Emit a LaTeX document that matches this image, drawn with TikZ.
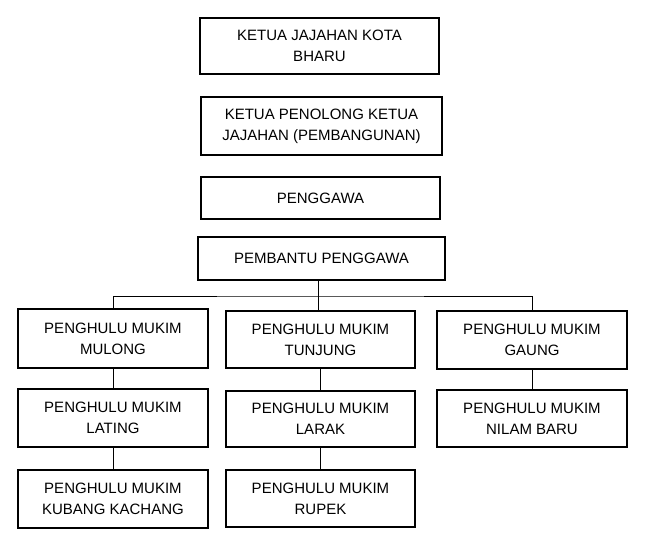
\documentclass[tikz,border=0pt]{standalone}
\usepackage{fontspec}
\setmainfont{Liberation Sans}
\begin{document}
\begin{tikzpicture}[x=1pt,y=-1pt,
 bx/.style={draw,line width=2.6pt,align=center,font=\fontsize{15}{21}\selectfont,inner sep=0pt},
 ln/.style={line width=0.7pt}]
\useasboundingbox (0,0) rectangle (646,544);
\newcommand{\bxat}[6]{\node[bx,minimum width=#4-#2,minimum height=#5-#3] (#1) at ({(#2+#4)/2},{(#3+#5)/2}) {#6};}
\bxat{a}{200}{18}{439}{74}{KETUA JAJAHAN KOTA\\BHARU}
\bxat{b}{201}{97}{442}{155}{KETUA PENOLONG KETUA\\JAJAHAN (PEMBANGUNAN)}
\bxat{c}{201}{177}{440}{219}{PENGGAWA}
\bxat{d}{198}{237}{445}{280}{PEMBANTU PENGGAWA}
\bxat{m1}{18}{309}{208}{368}{PENGHULU MUKIM\\MULONG}
\bxat{m2}{18}{389}{208}{447}{PENGHULU MUKIM\\LATING}
\bxat{m3}{18}{470}{208}{528}{PENGHULU MUKIM\\KUBANG KACHANG}
\bxat{t1}{226}{311}{415}{368}{PENGHULU MUKIM\\TUNJUNG}
\bxat{t2}{226}{391}{415}{447}{PENGHULU MUKIM\\LARAK}
\bxat{t3}{226}{470}{415}{527}{PENGHULU MUKIM\\RUPEK}
\bxat{g1}{437}{311}{627}{369}{PENGHULU MUKIM\\GAUNG}
\bxat{g2}{437}{390}{627}{447}{PENGHULU MUKIM\\NILAM BARU}
\coordinate (j) at (318,296);
\draw[ln] (d.south -| j) -- (j);
\draw[ln] (m1.north) |- (j) -| (g1.north);
\draw[ln] (j) -- (j |- t1.north);
\draw[ln] (m1) -- (m2); \draw[ln] (m2) -- (m3);
\draw[ln] (t1) -- (t2); \draw[ln] (t2) -- (t3);
\draw[ln] (g1) -- (g2);
\end{tikzpicture}
\end{document}
